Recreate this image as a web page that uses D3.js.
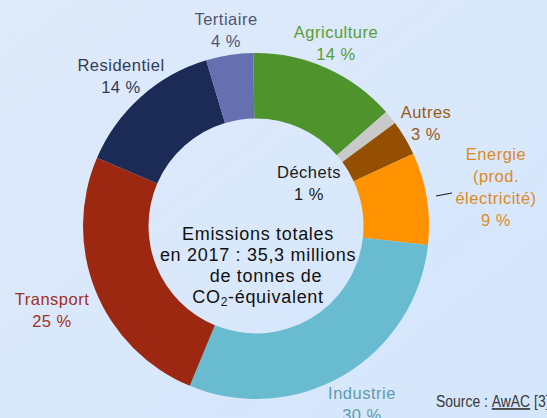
<!DOCTYPE html>
<html>
<head>
<meta charset="utf-8">
<script src="https://cdn.jsdelivr.net/npm/d3@7"></script>
<style>
  html, body { margin: 0; padding: 0; }
  body { width: 547px; height: 418px; overflow: hidden; }
  svg { display: block; }
</style>
</head>
<body>
<svg id="chart" width="547" height="418"></svg>
<script>
// ---- data ----
const categories = ["Agriculture", "Déchets", "Autres", "Energie", "Industrie", "Transport", "Residentiel", "Tertiaire"];
const shares = [13.8, 1.3, 3.3, 8.6, 29.5, 25.2, 13.9, 4.4];           // % of total emissions (slice sizes)
const percentLabels = ["14 %", "1 %", "3 %", "9 %", "30 %", "25 %", "14 %", "4 %"];
const nameLines = [["Agriculture"], ["Déchets"], ["Autres"], ["Energie", "(prod.", "électricité)"], ["Industrie"], ["Transport"], ["Residentiel"], ["Tertiaire"]];
const centerLines = ["Emissions totales", "en 2017 : 35,3 millions", "de tonnes de"];

// ---- styles / layout ----
const sliceColors = ["#4e932c", "#c9c9c9", "#944f02", "#fe9201", "#69bbd0", "#9d2812", "#1b2b55", "#6670b0"];
const labelColors = ["#5a9d34", "#1a1a1a", "#9a5a12", "#de8a1f", "#5f9cad", "#a0301a", "#2f3a5b", "#4f5576"];
const labelPos = [[336, 38], [309, 178], [426, 118], [496, 160], [362, 399], [52, 305], [121, 71], [226, 25]];
const lineH = 22;

const svg = d3.select("#chart");
const defs = svg.append("defs");
const grad = defs.append("linearGradient").attr("id", "bg").attr("x1", "0").attr("y1", "0").attr("x2", "1").attr("y2", "1");
grad.append("stop").attr("offset", "0").attr("stop-color", "#dfeafa");
grad.append("stop").attr("offset", "1").attr("stop-color", "#d4e6fc");
svg.append("rect").attr("width", 547).attr("height", 418).attr("fill", "url(#bg)");

const cx = 256, cy = 226, rOuter = 173, rInner = 107.5;
const rot = -0.9 * Math.PI / 180;

const pie = d3.pie().sort(null).value(d => d)
  .startAngle(rot).endAngle(2 * Math.PI + rot);
const arc = d3.arc().innerRadius(rInner).outerRadius(rOuter);

const g = svg.append("g").attr("transform", `translate(${cx},${cy})`);
g.selectAll("path.slice")
  .data(pie(shares))
  .join("path")
  .attr("class", "slice")
  .attr("d", arc)
  .attr("fill", (d, i) => sliceColors[i]);

// ---- labels ----
const font = "'Liberation Sans', Arial, Helvetica, sans-serif";
categories.forEach((c, i) => {
  const [x, y] = labelPos[i];
  const lines = nameLines[i].concat([percentLabels[i]]);
  const t = svg.append("text")
    .attr("x", x).attr("y", y)
    .attr("text-anchor", "middle")
    .attr("font-family", font)
    .attr("font-size", 16.5)
    .attr("letter-spacing", 0.5)
    .attr("fill", labelColors[i]);
  lines.forEach((ln, k) => {
    t.append("tspan").attr("x", x).attr("y", y + k * lineH).text(ln);
  });
});

// leader line for Energie
svg.append("line")
  .attr("x1", 436).attr("y1", 196).attr("x2", 452).attr("y2", 193)
  .attr("stroke", "#111").attr("stroke-width", 1);

// ---- center text ----
const cLineX = [258, 258, 266];
const cBase = 240, cStep = 21;
const ct = svg.append("text")
  .attr("text-anchor", "middle")
  .attr("font-family", font)
  .attr("font-size", 18)
  .attr("letter-spacing", 0.7)
  .attr("fill", "#111");
centerLines.forEach((ln, k) => {
  ct.append("tspan").attr("x", cLineX[k]).attr("y", cBase + k * cStep).text(ln);
});
const co2 = svg.append("text")
  .attr("x", 258).attr("y", cBase + 3 * cStep)
  .attr("text-anchor", "middle")
  .attr("font-family", font)
  .attr("font-size", 18)
  .attr("letter-spacing", 0.7)
  .attr("fill", "#111");
co2.append("tspan").text("CO");
co2.append("tspan").attr("font-size", 12).attr("dy", 3).text("2");
co2.append("tspan").attr("dy", -3).text("-équivalent");

// ---- source (condensed look) ----
const src = svg.append("text")
  .attr("transform", "translate(436,407) scale(0.82,1)")
  .attr("x", 0).attr("y", 0)
  .attr("font-family", font)
  .attr("font-size", 17)
  .attr("fill", "#383838");
src.append("tspan").text("Source : ");
src.append("tspan").attr("text-decoration", "underline").text("AwAC");
src.append("tspan").text(" [3]");
</script>
</body>
</html>
